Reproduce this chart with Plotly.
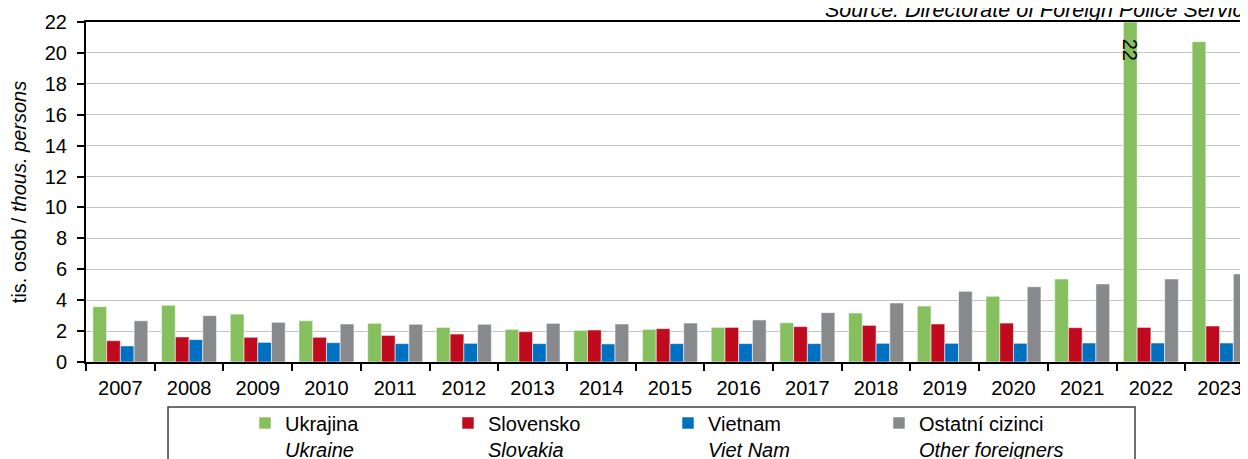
import plotly.graph_objects as go

years = [str(y) for y in range(2007, 2024)]
ukrajina = [3.58, 3.67, 3.10, 2.67, 2.50, 2.24, 2.11, 2.05, 2.11, 2.24, 2.54, 3.17, 3.62, 4.25, 5.37, 22.0, 20.73]
slovensko = [1.38, 1.62, 1.60, 1.60, 1.72, 1.81, 1.96, 2.07, 2.16, 2.24, 2.29, 2.37, 2.46, 2.52, 2.22, 2.24, 2.33]
vietnam = [1.04, 1.45, 1.27, 1.25, 1.19, 1.21, 1.19, 1.17, 1.19, 1.19, 1.19, 1.21, 1.21, 1.21, 1.23, 1.23, 1.23]
ostatni = [2.67, 3.00, 2.57, 2.46, 2.44, 2.44, 2.50, 2.46, 2.52, 2.72, 3.19, 3.82, 4.57, 4.87, 5.05, 5.37, 5.70]

series = [
    ("Ukrajina", "Ukraine", ukrajina, "#86BF5E", 158),
    ("Slovensko", "Slovakia", slovensko, "#C00A1E", 175),
    ("Vietnam", "Viet Nam", vietnam, "#0070C0", 166),
    ("Ostatní cizinci", "Other foreigners", ostatni, "#87898D", 160),
]

FONT = "Liberation Sans, Arial, sans-serif"

fig = go.Figure()
for cz, en, vals, color, lw in series:
    fig.add_bar(
        x=years, y=vals, name=f"{cz}<br><i>{en}</i>",
        marker=dict(color=color, line=dict(color="rgba(255,255,255,0.55)", width=1)),
        legendwidth=lw,
    )

# rotated value label on the clipped 2022 bar (sits just under the plot top)
peak = years.index("2022")
fig.add_annotation(
    x=peak, xref="x", y=1, yref="paper", text=f"{ukrajina[peak]:.0f}", textangle=90,
    showarrow=False, xanchor="center", yanchor="top", xshift=-20.6, yshift=-15,
    font=dict(size=20, color="black", family=FONT),
)

fig.add_annotation(
    text="<i>Source: Directorate of Foreign Police Service</i>",
    xref="paper", yref="paper", x=0.63, y=1.035, xanchor="left", yanchor="middle",
    showarrow=False, font=dict(size=21.5, color="black", family=FONT),
)

# legend frame
fig.add_shape(type="rect", xref="paper", yref="paper",
              x0=0.0701, x1=0.8966, y0=-0.1324, y1=-0.36,
              line=dict(color="#404040", width=1.5), fillcolor="rgba(0,0,0,0)")

fig.update_layout(
    width=1248, height=459,
    margin=dict(l=78, r=0, t=14, b=105, autoexpand=False),
    paper_bgcolor="white", plot_bgcolor="white",
    barmode="group", bargap=0.2, bargroupgap=0,
    font=dict(family=FONT, size=20, color="black"),
    showlegend=True,
    legend=dict(orientation="h", x=0.1359, xanchor="left", y=-0.122, yanchor="top",
                valign="top", font=dict(size=20, family=FONT), bgcolor="rgba(0,0,0,0)",
                tracegroupgap=0),
    xaxis=dict(
        type="category", range=[-0.5, 16.53], tickson="boundaries", automargin=False,
        ticks="outside", ticklen=7, tickwidth=2, tickcolor="black", ticklabelstandoff=7,
        showline=True, linecolor="black", linewidth=2, mirror=True,
        showgrid=False, tickfont=dict(size=20),
    ),
    yaxis=dict(
        range=[0, 22], dtick=2, ticks="outside", ticklen=7, tickwidth=2, tickcolor="black",
        ticklabelstandoff=6, automargin=False,
        showline=True, linecolor="black", linewidth=2,
        showgrid=True, gridcolor="#C4C4C4", gridwidth=1.3, zeroline=False,
        title=dict(text="tis. osob / <i>thous. persons</i>", font=dict(size=20), standoff=16),
        tickfont=dict(size=20),
    ),
)

fig.write_html("out.html")
